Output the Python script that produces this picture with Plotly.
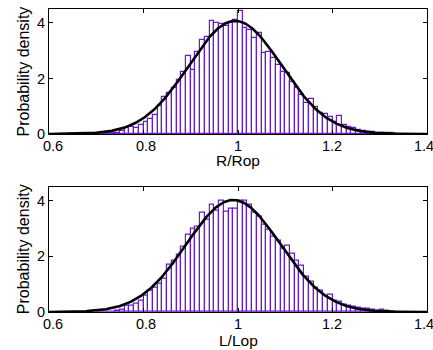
import numpy as np
import plotly.graph_objects as go

# ---- data ----
bin_left = [round(0.70 + 0.01 * i, 2) for i in range(63)]  # 0.70 ... 1.32
bin_width = 0.01

density_R = [
    0.01, 0.01, 0.02, 0.03, 0.05, 0.10, 0.20, 0.25, 0.22, 0.33,   # 0.70-0.79
    0.42, 0.55, 0.70, 1.00, 1.32, 1.46, 1.67, 1.94, 2.24, 2.82,   # 0.80-0.89
    2.30, 2.96, 3.40, 3.50, 4.07, 4.00, 3.96, 3.88, 4.04, 4.10,   # 0.90-0.99
    4.42, 3.82, 3.75, 3.45, 3.62, 2.90, 2.94, 2.74, 2.48, 2.24,   # 1.00-1.09
    2.18, 1.88, 1.64, 1.40, 1.10, 1.25, 0.98, 0.74, 0.71, 0.60,   # 1.10-1.19
    0.44, 0.65, 0.32, 0.26, 0.20, 0.14, 0.10, 0.07, 0.07, 0.05,   # 1.20-1.29
    0.05, 0.04, 0.02,                                             # 1.30-1.32
]

density_L = [
    0.00, 0.01, 0.01, 0.02, 0.04, 0.10, 0.22, 0.24, 0.30, 0.42,   # 0.70-0.79
    0.60, 0.75, 0.88, 1.00, 1.20, 1.71, 1.86, 2.07, 2.34, 2.76,   # 0.80-0.89
    3.00, 3.05, 3.55, 3.30, 3.87, 3.63, 4.01, 3.60, 3.72, 3.72,   # 0.90-0.99
    3.99, 3.99, 3.84, 3.55, 3.42, 3.15, 2.94, 2.70, 2.55, 2.26,   # 1.00-1.09
    2.38, 2.10, 1.86, 1.68, 1.26, 1.08, 0.87, 0.75, 0.60, 0.62,   # 1.10-1.19
    0.42, 0.36, 0.27, 0.22, 0.18, 0.14, 0.12, 0.12, 0.08, 0.05,   # 1.20-1.29
    0.08, 0.03, 0.02,                                             # 1.30-1.32
]

# fitted normal distributions (mean, std)
fit_R = (0.994, 0.098)
fit_L = (0.990, 0.0992)

x_ticks = [0.6, 0.8, 1.0, 1.2, 1.4]
x_tick_text = ["0.6", "0.8", "1", "1.2", "1.4"]
y_ticks = [0, 2, 4]
y_tick_text = ["0", "2", "4"]
x_titles = ["R/Rop", "L/Lop"]
y_title = "Probability density"

# ---- styling ----
PURPLE = "#6A1BC8"
FONT = "Liberation Sans, Arial, sans-serif"
x_label_nudge = [4, 2.5, 0, -0.8, -3]   # px, edge labels are pulled inward

W, H = 433, 350
ML, MR, MT, MB = 49, 6, 9, 38
plot_h = H - MT - MB

def ypaper(px):
    return (H - MB - px) / plot_h

def xpaper(px):
    return (px - ML) / (W - ML - MR)

top_dom = [ypaper(134), 1.0]
bot_dom = [0.0, ypaper(186.7)]

fig = go.Figure()

centers = [b + bin_width / 2 for b in bin_left]
xs = np.linspace(0.6, 1.4, 400)

for dens, fit, xa, ya in [(density_R, fit_R, "x", "y"), (density_L, fit_L, "x2", "y2")]:
    fig.add_trace(go.Bar(
        x=centers, y=dens, width=bin_width,
        marker=dict(color="rgba(255,255,255,0)", line=dict(color=PURPLE, width=1.2)),
        xaxis=xa, yaxis=ya, showlegend=False,
    ))
    mu, sd = fit
    pdf = np.exp(-0.5 * ((xs - mu) / sd) ** 2) / (sd * np.sqrt(2 * np.pi))
    fig.add_trace(go.Scatter(
        x=xs, y=pdf, mode="lines", line=dict(color="black", width=2.6),
        xaxis=xa, yaxis=ya, showlegend=False,
    ))

axis_common = dict(
    showgrid=False, zeroline=False, showline=True, linecolor="black", linewidth=1,
    mirror="ticks", ticks="inside", ticklen=4, tickcolor="black", tickwidth=1,
    tickfont=dict(family=FONT, size=14.5, color="black"),
    automargin=False,
)

fig.update_layout(
    width=W, height=H,
    margin=dict(l=ML, r=MR, t=MT, b=MB, autoexpand=False),
    paper_bgcolor="white", plot_bgcolor="white",
    bargap=0, barmode="overlay",
    xaxis=dict(axis_common, range=[0.6, 1.4], tickvals=x_ticks, showticklabels=False,
               anchor="y", domain=[0, 1]),
    yaxis=dict(axis_common, range=[0, 4.5], tickvals=y_ticks, ticktext=y_tick_text,
               anchor="x", domain=top_dom),
    xaxis2=dict(axis_common, range=[0.6, 1.4], tickvals=x_ticks, showticklabels=False,
                anchor="y2", domain=[0, 1]),
    yaxis2=dict(axis_common, range=[0, 4.5], tickvals=y_ticks, ticktext=y_tick_text,
                anchor="x2", domain=bot_dom),
)

tick_font = dict(family=FONT, size=14.5, color="black")
for xref, ypx in [("x", 145.5), ("x2", 324.5)]:
    for v, t, dx in zip(x_ticks, x_tick_text, x_label_nudge):
        fig.add_annotation(xref=xref, yref="paper", x=v, y=ypaper(ypx), text=t,
                           xshift=dx, showarrow=False, xanchor="center",
                           yanchor="middle", font=tick_font)

title_font = dict(family=FONT, size=15.5, color="black")
ytitle_font = dict(family=FONT, size=16, color="black")
annots = [
    dict(text=x_titles[0], x=0.5, y=ypaper(160.5), font=title_font),
    dict(text=x_titles[1], x=0.5, y=ypaper(340.5), font=title_font),
    dict(text=y_title, x=xpaper(23), y=ypaper(71.5), textangle=-90, font=ytitle_font),
    dict(text=y_title, x=xpaper(23), y=ypaper(249.2), textangle=-90, font=ytitle_font),
]
for a in annots:
    fig.add_annotation(xref="paper", yref="paper", showarrow=False,
                       xanchor="center", yanchor="middle", **a)

fig.write_html("out.html",
               config={"displayModeBar": False},
               post_script="document.body.style.margin='0px';document.body.style.padding='0px';")
